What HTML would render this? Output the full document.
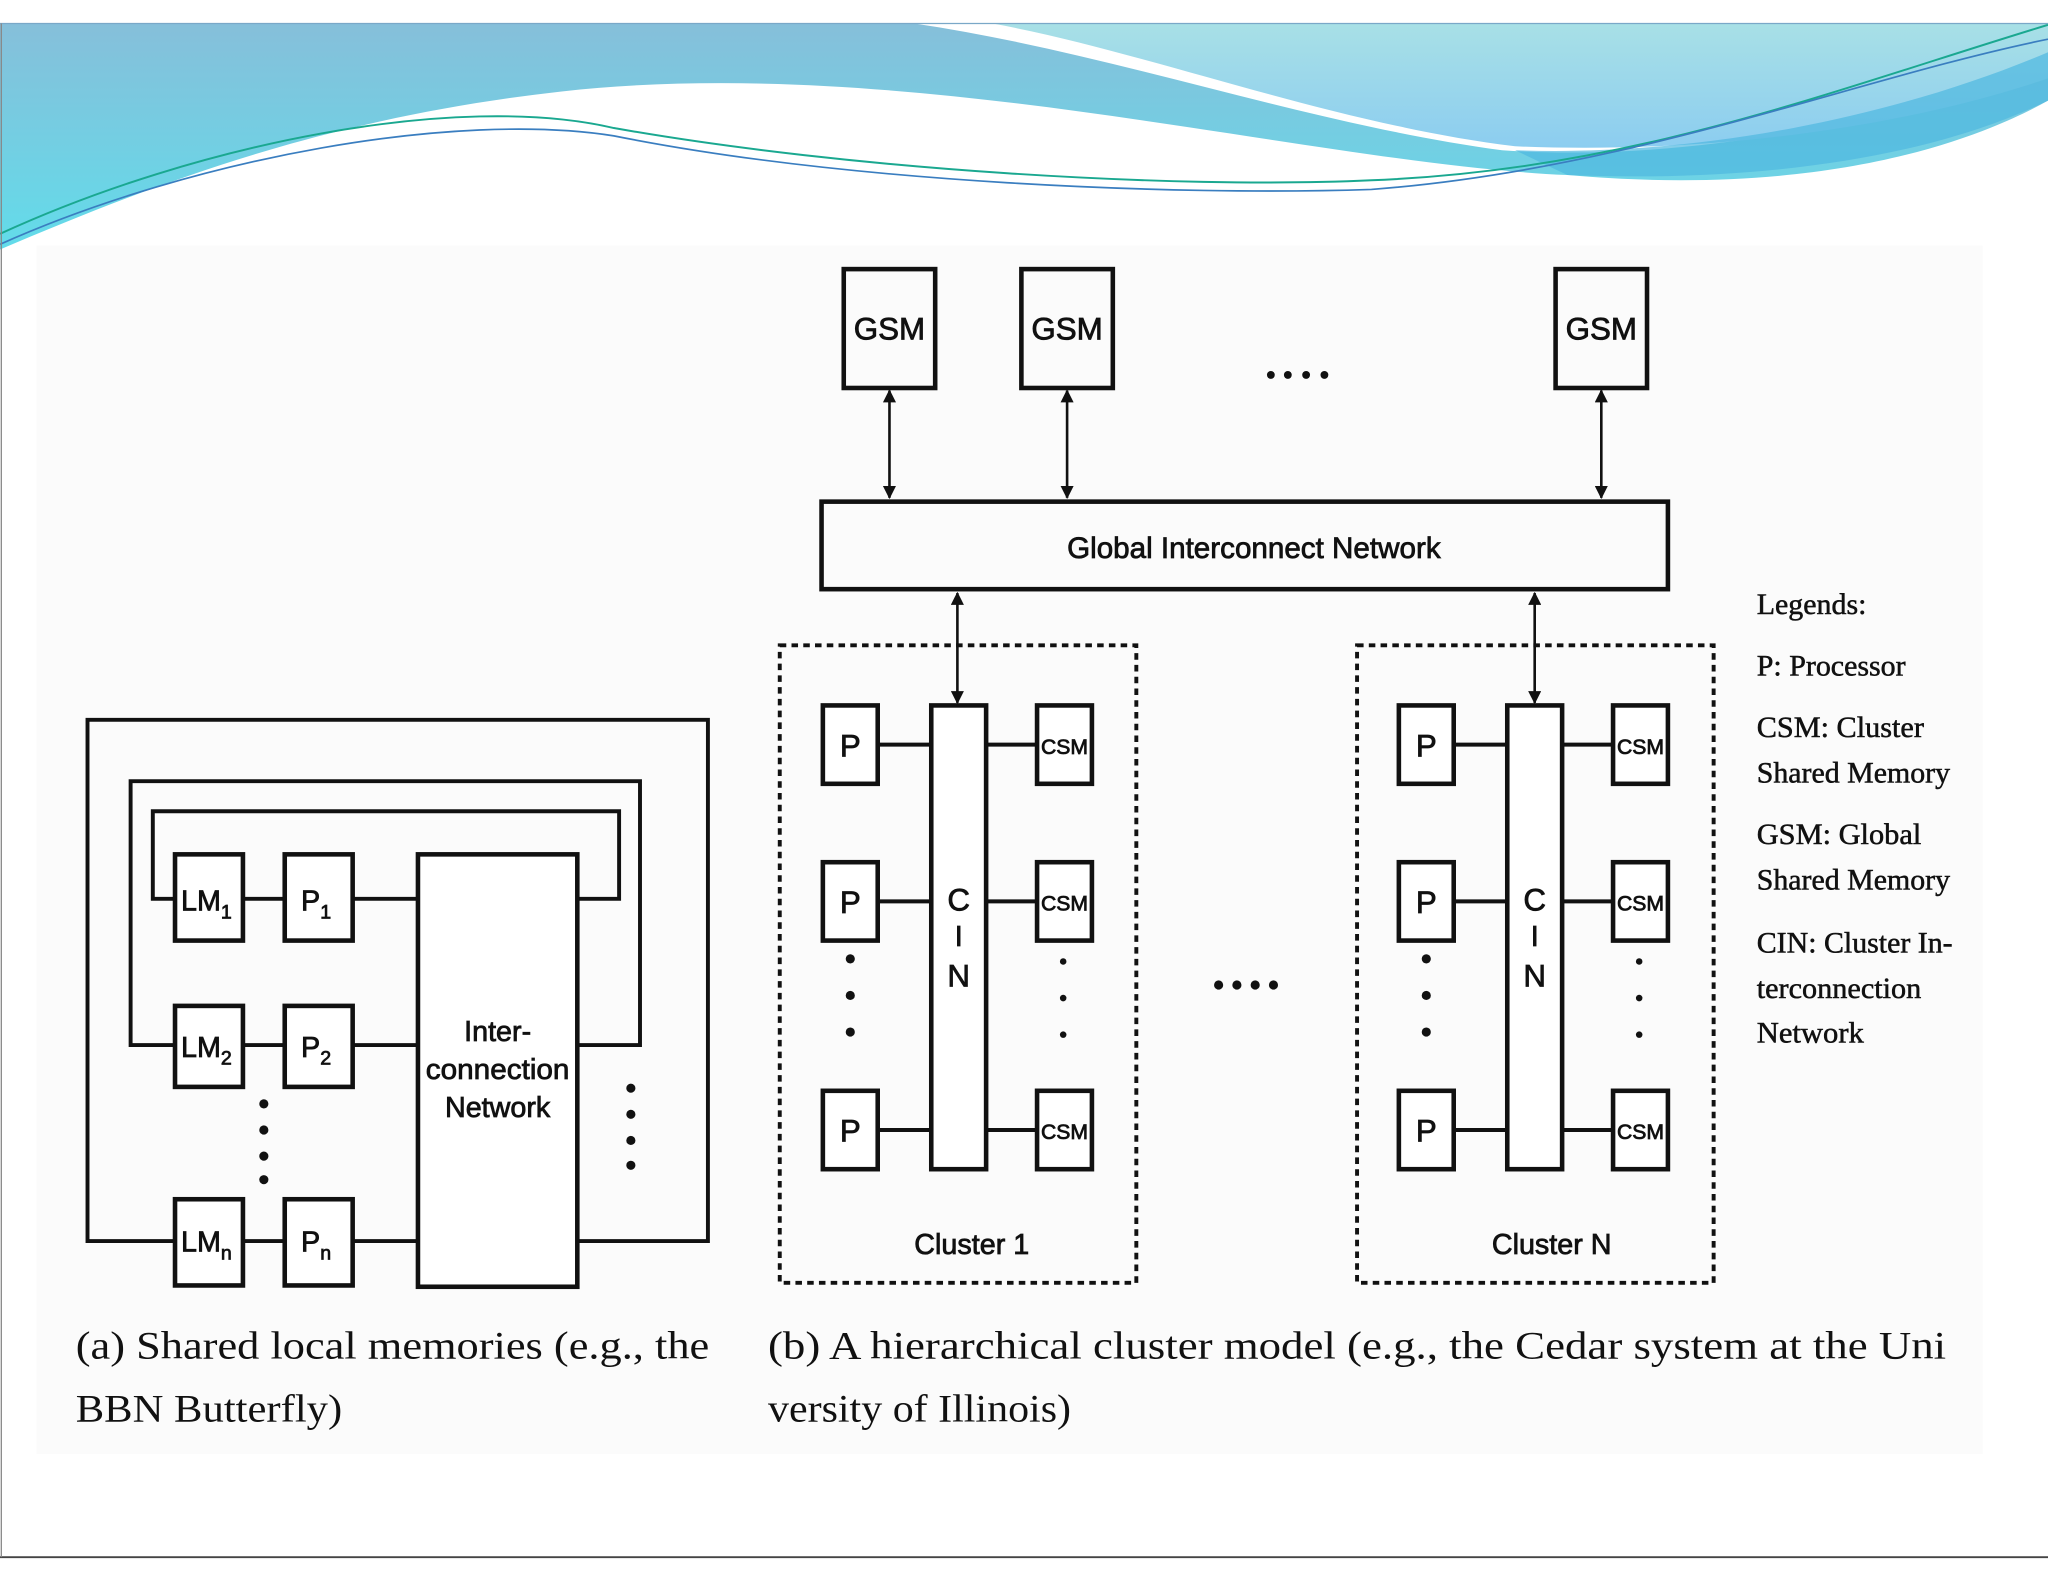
<!DOCTYPE html>
<html><head><meta charset="utf-8"><style>
html,body{margin:0;padding:0;background:#fff;}
svg{display:block;}
.s{font-family:"Liberation Sans",sans-serif;}
.r{font-family:"Liberation Serif",serif;}
</style></head><body>
<svg width="2048" height="1582" viewBox="0 0 1568 1211" preserveAspectRatio="none" xmlns="http://www.w3.org/2000/svg">
<defs>
<linearGradient id="g1" x1="0" y1="0" x2="0" y2="1">
<stop offset="0" stop-color="#86bfda"/><stop offset="1" stop-color="#62dcea"/></linearGradient>
<linearGradient id="g2" x1="0" y1="0" x2="0" y2="1">
<stop offset="0" stop-color="#a8e0e6"/><stop offset="1" stop-color="#8ccdf0"/></linearGradient>
<marker id="a" viewBox="0 0 10 10" refX="9" refY="5" markerWidth="5" markerHeight="5" orient="auto-start-reverse"><path d="M0,0 L10,5 L0,10 z" fill="#111"/></marker>
</defs>
<rect width="1568" height="1211" fill="#fff"/>
<rect x="28" y="188" width="1490" height="925" fill="#fbfbfb"/>
<!-- header -->
<path d="M0,18 H1568 V77 C1500,115 1380,150 1200,134 C1000,125 700,40 430,70 C250,90 120,140 0,191 Z" fill="url(#g1)"/>
<path d="M700,18 H1568 V50 C1450,90 1300,125 1150,115 C1000,95 850,40 700,18 Z" fill="#fff"/>
<path d="M760,18 H1568 V60 C1450,100 1300,118 1160,112 C1020,95 880,40 760,18 Z" fill="url(#g2)"/>
<path d="M1160,115 C1300,120 1450,90 1568,40 V77 C1480,120 1350,140 1200,134 Z" fill="#4fb8e0" opacity="0.7"/>
<path d="M0,179 C150,110 350,70 470,98 C650,130 900,145 1050,138 C1250,130 1400,70 1568,19" fill="none" stroke="#1aa890" stroke-width="1.5"/>
<path d="M0,187 C150,120 350,85 470,104 C650,140 900,150 1050,145 C1250,130 1420,60 1568,30" fill="none" stroke="#3a7ec0" stroke-width="1.3"/>
<line x1="0" y1="18" x2="1568" y2="18" stroke="#7aa8c8" stroke-width="1"/>
<line x1="0" y1="1192" x2="1568" y2="1192" stroke="#444" stroke-width="1.5"/>
<line x1="1" y1="18" x2="1" y2="1192" stroke="#888" stroke-width="1"/>

<g stroke="#111" stroke-width="3" fill="none">
<polyline points="134,950 67,950 67,551 542,551 542,950 442,950"/>
<polyline points="134,800 100,800 100,598 490,598 490,800 442,800"/>
<polyline points="134,688 117,688 117,621 474,621 474,688 442,688"/>
<line x1="186" y1="688" x2="218" y2="688"/><line x1="270" y1="688" x2="320" y2="688"/>
<line x1="186" y1="800" x2="218" y2="800"/><line x1="270" y1="800" x2="320" y2="800"/>
<line x1="186" y1="950" x2="218" y2="950"/><line x1="270" y1="950" x2="320" y2="950"/>
<rect x="134" y="654" width="52" height="66" fill="#fff" stroke-width="3.5"/>
<rect x="218" y="654" width="52" height="66" fill="#fff" stroke-width="3.5"/>
<rect x="134" y="770" width="52" height="62" fill="#fff" stroke-width="3.5"/>
<rect x="218" y="770" width="52" height="62" fill="#fff" stroke-width="3.5"/>
<rect x="134" y="918" width="52" height="66" fill="#fff" stroke-width="3.5"/>
<rect x="218" y="918" width="52" height="66" fill="#fff" stroke-width="3.5"/>
<rect x="320" y="654" width="122" height="331" fill="#fff" stroke-width="3.5"/>
</g>
<g fill="#111">
<circle cx="202" cy="845" r="3.5"/><circle cx="202" cy="865" r="3.5"/><circle cx="202" cy="885" r="3.5"/><circle cx="202" cy="903" r="3.5"/>
<circle cx="483" cy="833" r="3.5"/><circle cx="483" cy="853" r="3.5"/><circle cx="483" cy="873" r="3.5"/><circle cx="483" cy="892" r="3.5"/>
</g>
<g class="s" font-size="22" fill="#111" text-anchor="middle" stroke="#111" stroke-width="0.6">
<text x="158" y="697">LM<tspan font-size="15" dy="6">1</tspan></text>
<text x="242" y="697">P<tspan font-size="15" dy="6">1</tspan></text>
<text x="158" y="809">LM<tspan font-size="15" dy="6">2</tspan></text>
<text x="242" y="809">P<tspan font-size="15" dy="6">2</tspan></text>
<text x="158" y="958">LM<tspan font-size="15" dy="6">n</tspan></text>
<text x="242" y="958">P<tspan font-size="15" dy="6">n</tspan></text>
<text x="381" y="797">Inter-</text>
<text x="381" y="826" textLength="110" lengthAdjust="spacingAndGlyphs">connection</text>
<text x="381" y="855">Network</text>
</g>
<g class="r" font-size="30" fill="#111">
<text x="58" y="1040" textLength="485" lengthAdjust="spacingAndGlyphs">(a) Shared local memories (e.g., the</text>
<text x="58" y="1088" textLength="204" lengthAdjust="spacingAndGlyphs">BBN Butterfly)</text>
<text x="588" y="1040" textLength="902" lengthAdjust="spacingAndGlyphs">(b) A hierarchical cluster model (e.g., the Cedar system at the Uni</text>
<text x="588" y="1088" textLength="232" lengthAdjust="spacingAndGlyphs">versity of Illinois)</text>
</g>

<g stroke="#111" stroke-width="3" fill="none">
<rect x="646" y="206" width="70" height="91" stroke-width="3.5"/>
<rect x="782" y="206" width="70" height="91" stroke-width="3.5"/>
<rect x="1191" y="206" width="70" height="91" stroke-width="3.5"/>
<line x1="681" y1="299" x2="681" y2="381" stroke-width="2" marker-start="url(#a)" marker-end="url(#a)"/>
<line x1="817" y1="299" x2="817" y2="381" stroke-width="2" marker-start="url(#a)" marker-end="url(#a)"/>
<line x1="1226" y1="299" x2="1226" y2="381" stroke-width="2" marker-start="url(#a)" marker-end="url(#a)"/>
<rect x="629" y="384" width="648" height="67" stroke-width="3.5"/>
<line x1="733" y1="454" x2="733" y2="538" stroke-width="2" marker-start="url(#a)" marker-end="url(#a)"/>
<line x1="1175" y1="454" x2="1175" y2="538" stroke-width="2" marker-start="url(#a)" marker-end="url(#a)"/>
<rect x="597" y="494" width="273" height="488" stroke-dasharray="5,4"/>
<rect x="1039" y="494" width="273" height="488" stroke-dasharray="5,4"/>
</g>
<g class="s" font-size="24" fill="#111" text-anchor="middle" stroke="#111" stroke-width="0.6">
<text x="681" y="260">GSM</text><text x="817" y="260">GSM</text><text x="1226" y="260">GSM</text>
<text x="960" y="427" font-size="23" textLength="286" lengthAdjust="spacingAndGlyphs">Global Interconnect Network</text>
<text x="744" y="960" font-size="22">Cluster 1</text>
<text x="1188" y="960" font-size="22">Cluster N</text>
</g>
<g fill="#111">
<circle cx="973" cy="287" r="3"/><circle cx="986" cy="287" r="3"/><circle cx="1000" cy="287" r="3"/><circle cx="1014" cy="287" r="3"/>
<circle cx="933" cy="754" r="3.5"/><circle cx="947" cy="754" r="3.5"/><circle cx="961" cy="754" r="3.5"/><circle cx="975" cy="754" r="3.5"/>
</g>
<g id="cl">
<g stroke="#111" stroke-width="3" fill="none">
<line x1="672" y1="570" x2="713" y2="570"/><line x1="755" y1="570" x2="794" y2="570"/>
<line x1="672" y1="690" x2="713" y2="690"/><line x1="755" y1="690" x2="794" y2="690"/>
<line x1="672" y1="865" x2="713" y2="865"/><line x1="755" y1="865" x2="794" y2="865"/>
<rect x="713" y="540" width="42" height="355" fill="#fff" stroke-width="3.5"/>
<rect x="630" y="540" width="42" height="60" fill="#fff" stroke-width="3.5"/>
<rect x="630" y="660" width="42" height="60" fill="#fff" stroke-width="3.5"/>
<rect x="630" y="835" width="42" height="60" fill="#fff" stroke-width="3.5"/>
<rect x="794" y="540" width="42" height="60" fill="#fff" stroke-width="3.5"/>
<rect x="794" y="660" width="42" height="60" fill="#fff" stroke-width="3.5"/>
<rect x="794" y="835" width="42" height="60" fill="#fff" stroke-width="3.5"/>
</g>
<g class="s" fill="#111" text-anchor="middle" stroke="#111" stroke-width="0.6">
<text x="651" y="579" font-size="24">P</text>
<text x="651" y="699" font-size="24">P</text>
<text x="651" y="874" font-size="24">P</text>
<text x="815" y="577" font-size="16" textLength="36" lengthAdjust="spacingAndGlyphs">CSM</text>
<text x="815" y="697" font-size="16" textLength="36" lengthAdjust="spacingAndGlyphs">CSM</text>
<text x="815" y="872" font-size="16" textLength="36" lengthAdjust="spacingAndGlyphs">CSM</text>
<text x="734" y="697" font-size="24">C</text>
<text x="734" y="724" font-size="22">I</text>
<text x="734" y="755" font-size="24">N</text>
</g>
<g fill="#111">
<circle cx="651" cy="734" r="3.5"/><circle cx="651" cy="762" r="3.5"/><circle cx="651" cy="790" r="3.5"/>
<circle cx="814" cy="736" r="2.5"/><circle cx="814" cy="764" r="2.5"/><circle cx="814" cy="792" r="2.5"/>
</g>
</g>
<use href="#cl" transform="translate(441,0)"/>

<g class="r" font-size="23" fill="#111" stroke="#111" stroke-width="0.4">
<text x="1345" y="470" textLength="84" lengthAdjust="spacingAndGlyphs">Legends:</text>
<text x="1345" y="517" textLength="114" lengthAdjust="spacingAndGlyphs">P: Processor</text>
<text x="1345" y="564" textLength="128" lengthAdjust="spacingAndGlyphs">CSM: Cluster</text>
<text x="1345" y="599" textLength="148" lengthAdjust="spacingAndGlyphs">Shared Memory</text>
<text x="1345" y="646" textLength="126" lengthAdjust="spacingAndGlyphs">GSM: Global</text>
<text x="1345" y="681" textLength="148" lengthAdjust="spacingAndGlyphs">Shared Memory</text>
<text x="1345" y="729" textLength="150" lengthAdjust="spacingAndGlyphs">CIN: Cluster In-</text>
<text x="1345" y="764" textLength="126" lengthAdjust="spacingAndGlyphs">terconnection</text>
<text x="1345" y="798" textLength="82" lengthAdjust="spacingAndGlyphs">Network</text>
</g>
</svg>
</body></html>
